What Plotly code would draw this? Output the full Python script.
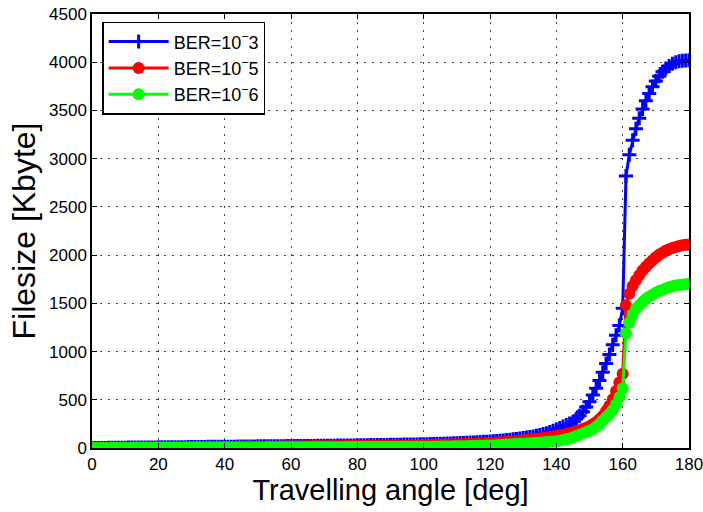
import plotly.graph_objects as go

angle = list(range(0, 181))

ber3 = [0,0,1,1,1,2,2,2,3,3,
        3,4,4,4,5,5,5,6,6,6,
        7,7,7,8,8,8,9,9,9,10,
        10,10,11,11,11,12,12,12,13,13,
        13,14,14,14,15,15,15,16,16,16,
        17,17,17,18,18,18,19,19,19,20,
        20,20,21,21,21,22,22,22,23,23,
        23,24,24,24,25,25,26,26,27,27,
        28,28,29,29,30,30,31,31,32,32,
        33,33,34,34,35,35,36,37,37,38,
        39,40,41,42,43,44,45,46,47,48,
        50,51,53,54,56,58,60,62,64,66,
        68,70,73,76,79,82,86,90,94,98,
        103,108,114,120,127,135,144,154,165,178,
        193,207,222,238,255,273,300,335,375,425,
        480,550,620,700,785,875,970,1070,1170,1270,
        1450,2820,3040,3190,3310,3420,3515,3600,3675,3745,
        3805,3855,3900,3935,3962,3985,4000,4010,4015,4018,4020]

ber5 = [0,0,1,1,1,2,2,2,2,3,
        3,3,3,4,4,4,4,5,5,5,
        5,6,6,6,6,7,7,7,7,8,
        8,8,8,9,9,9,9,10,10,10,
        10,11,11,11,11,12,12,12,12,13,
        13,13,13,14,14,14,14,15,15,15,
        15,16,16,16,16,17,17,17,17,18,
        18,18,18,19,19,19,20,20,20,21,
        21,21,22,22,22,23,23,23,24,24,
        25,25,26,26,27,27,28,28,29,29,
        30,31,31,32,33,34,35,36,37,38,
        39,40,41,42,43,44,45,46,47,49,
        51,53,55,57,59,62,65,68,71,74,
        78,82,86,90,94,99,104,109,114,120,
        125,130,138,146,154,162,172,183,196,210,
        226,246,270,298,333,385,437,506,592,680,
        770,1480,1600,1680,1740,1790,1840,1880,1915,1948,
        1978,2003,2025,2045,2060,2073,2085,2095,2102,2107,2110]

ber6 = [0,0,0,0,0,1,1,1,1,1,
        1,1,1,2,2,2,2,2,2,2,
        2,3,3,3,3,3,3,3,3,4,
        4,4,4,4,4,4,4,5,5,5,
        5,5,5,5,5,6,6,6,6,6,
        6,6,6,7,7,7,7,7,7,7,
        7,8,8,8,8,8,8,8,8,9,
        9,9,9,9,9,9,9,10,10,10,
        10,10,10,10,10,11,11,11,11,11,
        11,11,11,12,12,12,12,12,12,12,
        12,13,13,14,14,15,15,16,16,17,
        17,18,19,19,20,21,22,23,24,25,
        26,27,29,31,33,35,37,39,41,43,
        45,47,49,51,53,55,58,61,64,67,
        70,75,82,90,99,110,125,138,150,165,
        180,194,220,250,285,318,352,395,450,523,
        616,1188,1300,1385,1445,1480,1515,1545,1568,1590,
        1610,1627,1642,1655,1666,1676,1684,1690,1695,1698,1700]

x_ticks = [0, 20, 40, 60, 80, 100, 120, 140, 160, 180]
y_ticks = [0, 500, 1000, 1500, 2000, 2500, 3000, 3500, 4000, 4500]

series = [
    ("BER=10<sup>\u2212</sup>3", ber3, "#0000ff", "cross-thin", 10),
    ("BER=10<sup>\u2212</sup>5", ber5, "#ff0000", "circle", 12),
    ("BER=10<sup>\u2212</sup>6", ber6, "#00ff00", "circle", 12),
]

fig = go.Figure()
for name, vals, col, sym, sz in series:
    fig.add_trace(go.Scatter(
        x=angle, y=vals, name=name, mode="lines+markers",
        line=dict(color=col, width=3),
        marker=dict(symbol=sym, size=sz, color=col,
                    line=dict(color=col, width=3 if sym == "cross-thin" else 0)),
    ))

font_family = "Liberation Sans, Arial, sans-serif"
axis_common = dict(
    showline=True, linecolor="black", linewidth=1.5, mirror="ticks",
    ticks="inside", ticklen=5, tickcolor="black", tickwidth=1,
    showgrid=True, gridcolor="#444444", gridwidth=1, griddash="1.5px,6.5px",
    zeroline=False, tickfont=dict(family=font_family, size=17, color="black"),
    ticklabeloverflow="allow", automargin=False,
)

fig.update_layout(
    width=703, height=512,
    margin=dict(l=92, r=14, t=14, b=64, autoexpand=False),
    paper_bgcolor="white", plot_bgcolor="white",
    font=dict(family=font_family, color="black"),
    xaxis=dict(range=[0, 180], tickvals=x_ticks,
               title=dict(text="Travelling angle [deg]", font=dict(size=29), standoff=2),
               **axis_common),
    yaxis=dict(range=[0, 4500], tickvals=y_ticks,
               title=dict(text="Filesize [Kbyte]", font=dict(size=32), standoff=4),
               **axis_common),
    legend=dict(x=0.017, y=0.982, xanchor="left", yanchor="top",
                bgcolor="white", bordercolor="black", borderwidth=1.5,
                font=dict(family=font_family, size=18, color="black"),
                itemwidth=60, tracegroupgap=4),
    showlegend=True,
)

fig.write_html("out.html")
